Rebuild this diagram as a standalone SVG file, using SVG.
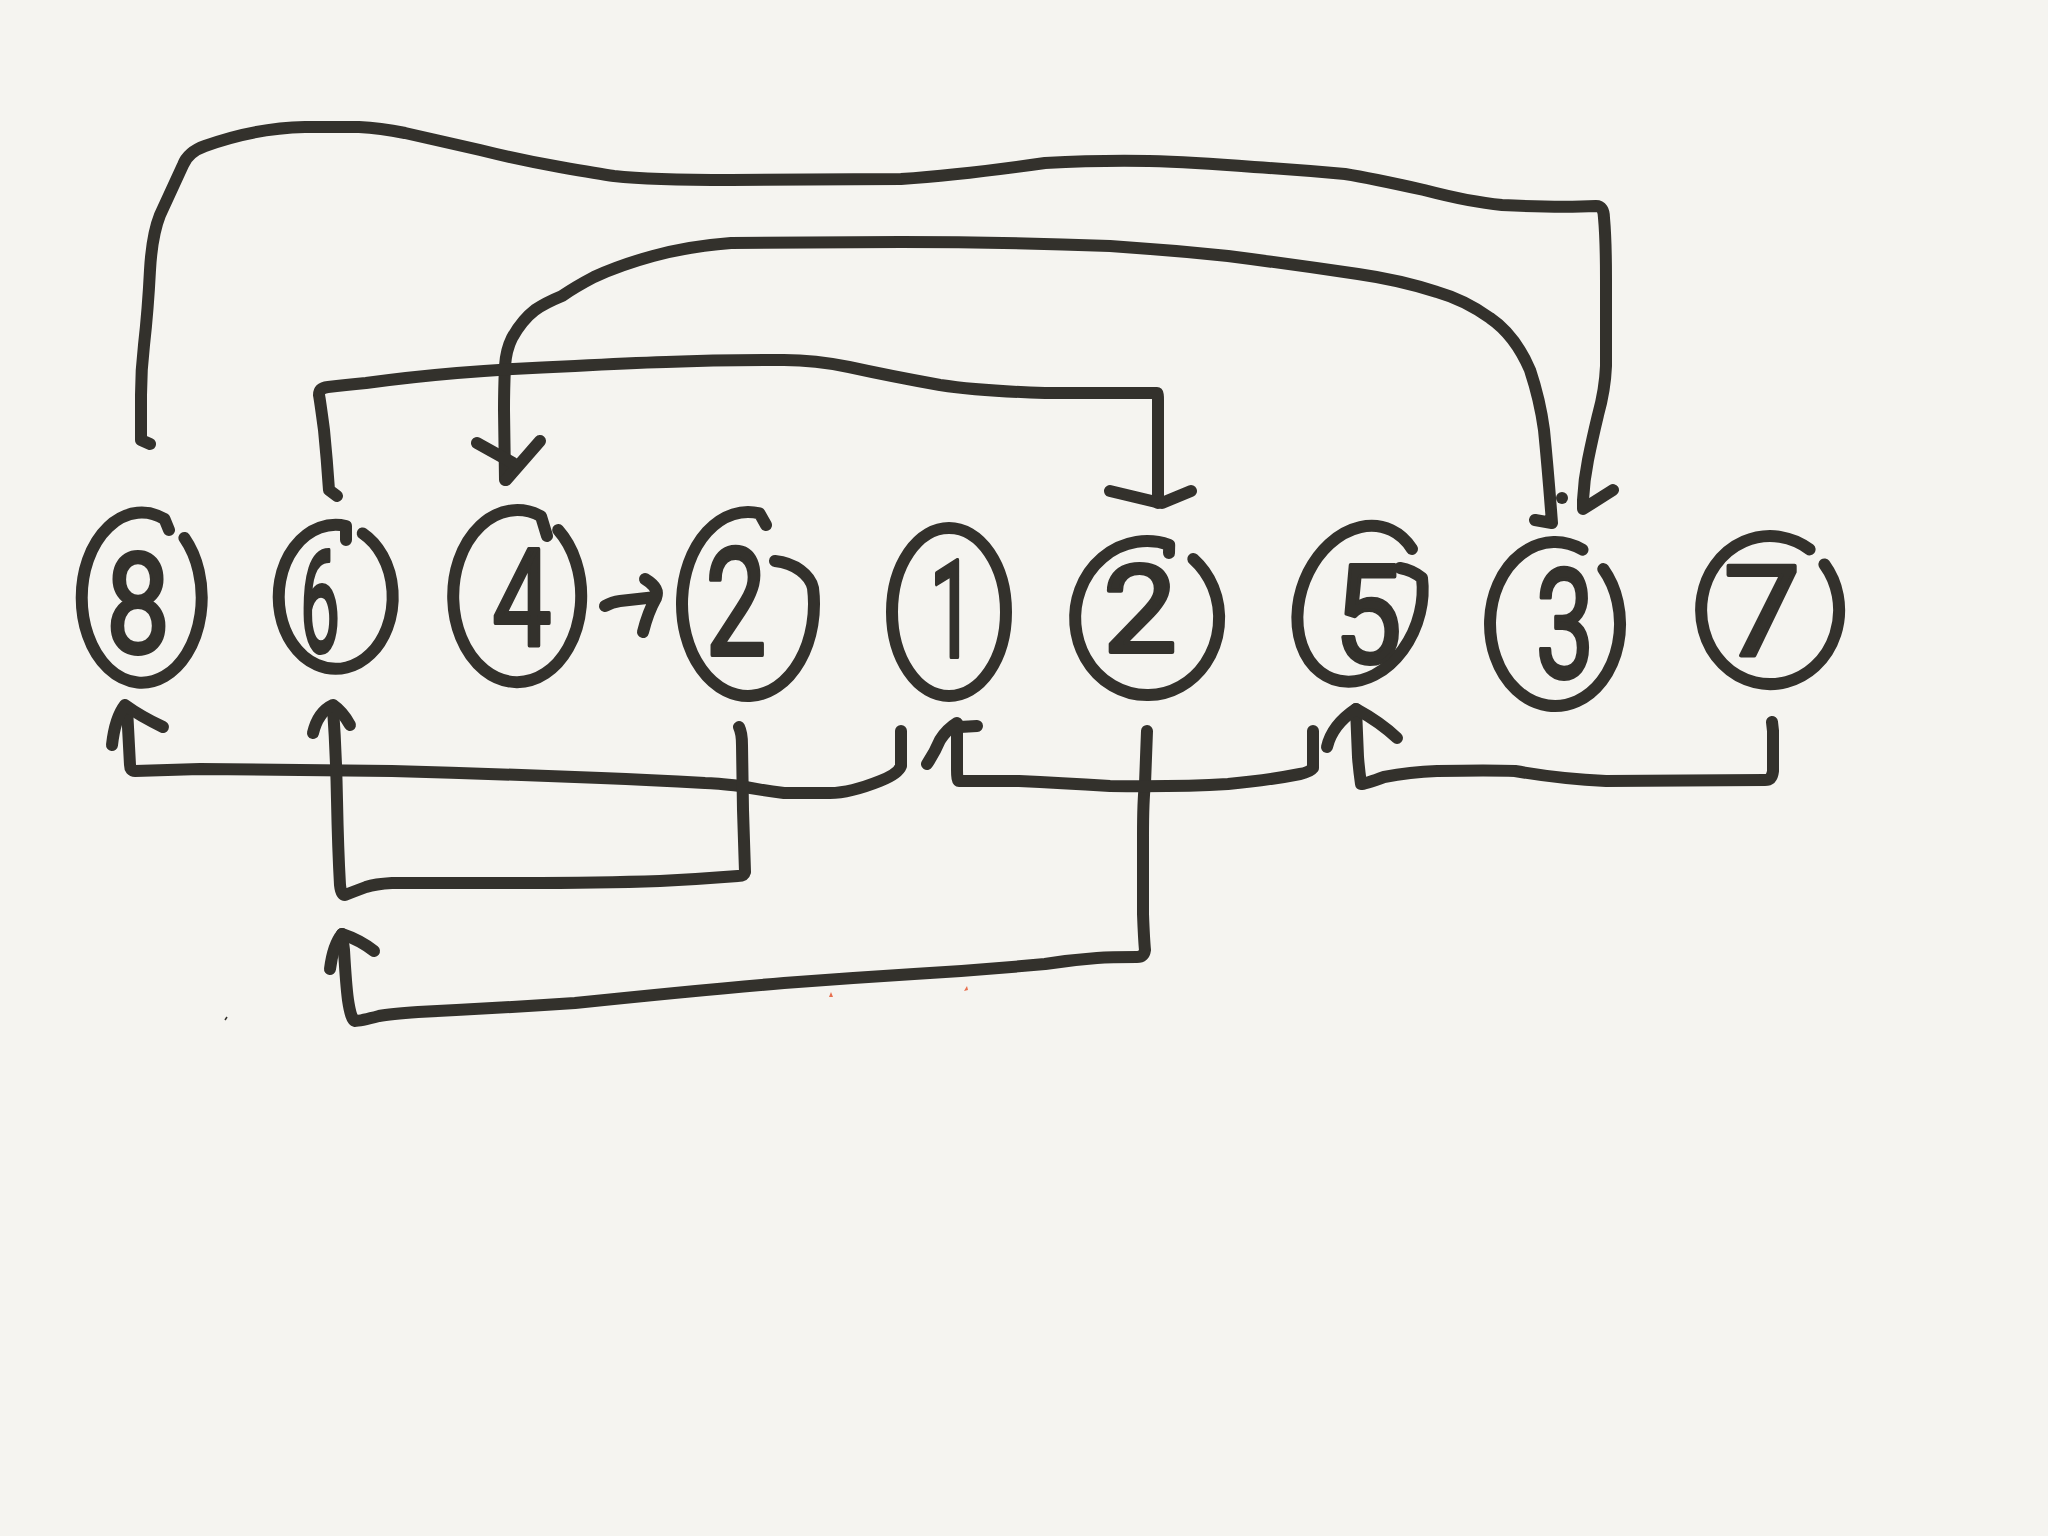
<svg xmlns="http://www.w3.org/2000/svg" width="2048" height="1536" viewBox="0 0 2048 1536">
<style>
.s{fill:none;stroke:#33312c;stroke-width:12;stroke-linecap:round;stroke-linejoin:round}
.d{font-family:Roboto,"Liberation Sans","DejaVu Sans",sans-serif;fill:#33312c;stroke:#33312c;stroke-width:4;stroke-linejoin:round;text-anchor:middle}
</style>
<rect width="2048" height="1536" fill="#f5f4f0"/>
<g id="connectors">
<path class="s" d="M150,444 L141,440 L141,395 Q141,370 144,345 Q148,310 150,270 Q152,235 160,215 L183,165 Q188,152 205,146 Q255,128 305,127 L359,127 Q380,128 405,133 Q440,141 480,150 Q520,160 560,167 Q600,174 614,176 Q650,180 731,180 L901,179 Q960,175 1045,163 Q1100,160 1149,161 Q1190,162 1254,167 Q1300,170 1345,174 Q1370,178 1424,190 Q1470,202 1502,205 Q1560,208 1596,206 Q1604,206 1604,218 Q1606,240 1606,280 L1606,366 Q1605,390 1598,415 Q1592,440 1588,460 Q1584,480 1583,500 L1583,509 L1613,490"/>
<path class="s" d="M1535,520 L1552,523 Q1548,470 1544,430 Q1540,400 1530,370 Q1515,335 1490,318 Q1465,300 1437,292 Q1400,280 1358,274 Q1290,264 1228,256 Q1170,250 1110,246 Q1000,242 901,242 L731,243 Q690,246 653,256 Q620,265 594,277 Q575,287 562,296 Q545,303 535,310 Q522,320 512,338 Q506,350 505,366 Q504,390 504,410 L505,480"/>
<path class="s" d="M477,443 L513,463 M540,441 L506,480"/>
<circle cx="1562" cy="498" r="6" fill="#33312c"/>
<path class="s" d="M337,496 L329,490 Q327,460 324,430 Q320,400 319,395 Q319,388 328,387 Q345,385 366,383 Q410,377 457,373 Q520,368 575,366 Q630,363 666,362 Q720,360 784,360 Q815,360 849,367 Q890,376 940,385 Q980,391 1045,393 L1157,393 Q1158,393 1158,400 L1158,503"/>
<path class="s" d="M1110,491 L1156,502 M1191,491 L1162,503"/>
<path class="s" d="M605,606 Q612,602 620,601 L656,597 M645,579 Q660,588 656,598 Q648,612 643,632"/>
<path class="s" d="M901,731 L901,766 Q898,774 880,781 Q850,793 830,793 L784,793 Q760,790 740,786 Q715,783 705,783 Q650,780 601,778 Q500,774 392,771 L200,769 L135,771 Q130,771 130,765 L127,708"/>
<path class="s" d="M112,745 Q115,718 125,705 Q140,716 163,727"/>
<path class="s" d="M739,727 Q742,733 742,745 L743,810 L745,872 Q744,876 738,876 Q700,879 660,881 Q600,883 522,883 L392,883 Q375,884 366,887 Q350,893 345,895 Q341,895 340,885 Q338,850 337,800 Q336,750 333,708"/>
<path class="s" d="M313,733 Q318,712 333,705 Q343,712 350,725"/>
<path class="s" d="M1147,731 L1145,784 Q1143,800 1143,836 L1143,914 Q1144,940 1145,950 Q1144,957 1137,957 Q1110,957 1097,958 Q1070,960 1045,964 Q980,970 914,974 Q850,978 784,983 Q700,990 575,1003 Q500,1008 418,1012 Q390,1014 379,1016 Q360,1021 355,1021 Q351,1020 348,1000 Q346,985 344,950 L342,934"/>
<path class="s" d="M330,969 Q333,945 342,934 Q360,940 374,951"/>
<path class="s" d="M1313,731 L1313,768 Q1310,772 1300,774 Q1270,780 1228,784 Q1180,787 1110,786 Q1060,783 1019,781 L959,781 Q957,781 957,770 L957,725"/>
<path class="s" d="M927,764 Q935,752 940,740 Q947,729 957,723 M960,727 L977,726"/>
<path class="s" d="M1772,722 L1773,731 L1773,771 Q1772,780 1765,780 L1606,781 Q1560,779 1515,771 Q1490,770 1437,771 Q1410,772 1384,777 Q1365,784 1361,784 Q1359,770 1358,757 L1356,709"/>
<path class="s" d="M1327,747 Q1332,725 1356,709 Q1380,722 1397,738"/>
<path d="M829,997 L831,992 L833,997 Z M964,991 L967,986 L968,990 Z" fill="#e8704f"/>
<path d="M225,1020 L227,1017" stroke="#33312c" stroke-width="1.5"/>
</g>
<g id="node-8">
<path class="s" d="M169,530 L164.5,519 A60,85 0 1 0 184.4,537.9"/>
<text class="d" x="138" y="653" font-size="140" textLength="64" lengthAdjust="spacingAndGlyphs">8</text>
</g>
<g id="node-6">
<path class="s" d="M346,540 L346,526 A57,72 0 1 0 362.7,533.4"/>
<text class="d" x="320" y="652" font-size="142" textLength="40" lengthAdjust="spacingAndGlyphs">6</text>
</g>
<g id="node-4">
<path class="s" d="M547,536 L541,516.3 A64,86 0 1 0 558.2,530.1"/>
<text class="d" x="522" y="645" font-size="135" textLength="59" lengthAdjust="spacingAndGlyphs">4</text>
</g>
<g id="node-2a">
<path class="s" d="M766,525 L759.5,513.4 A66,92 0 1 0 813,588 C810,575 795,563 775,561"/>
<text class="d" x="736" y="655" font-size="150" textLength="61" lengthAdjust="spacingAndGlyphs">2</text>
</g>
<g id="node-1">
<ellipse class="s" cx="949" cy="612" rx="57" ry="84"/>
<text class="d" x="952" y="657" font-size="135" textLength="45" lengthAdjust="spacingAndGlyphs">1</text>
</g>
<g id="node-2b">
<path class="s" d="M1169,553 L1169.2,544.8 A72,77 0 1 0 1193.3,559"/>
<text class="d" x="1140" y="652" font-size="122" textLength="74" lengthAdjust="spacingAndGlyphs">2</text>
</g>
<g id="node-5">
<path class="s" d="M1412,549 A60,80 20 1 0 1422,578 Q1412,570 1400,568"/>
<text class="d" x="1368" y="663" font-size="137" textLength="68" lengthAdjust="spacingAndGlyphs">5</text>
</g>
<g id="node-3">
<path class="s" d="M1582.5,549.7 A65,82 0 1 0 1603.3,569.1"/>
<text class="d" x="1565" y="678" font-size="153" textLength="59" lengthAdjust="spacingAndGlyphs">3</text>
</g>
<g id="node-7">
<path class="s" d="M1809.6,549.4 A69,74 0 1 0 1824.4,564.4"/>
<text class="d" x="1762" y="655" font-size="126" textLength="77" lengthAdjust="spacingAndGlyphs">7</text>
</g>
</svg>
